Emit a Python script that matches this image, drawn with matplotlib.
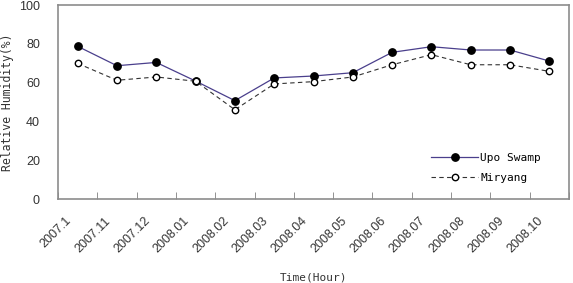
import numpy as np
import matplotlib
matplotlib.use('Agg')
import matplotlib.pyplot as plt
import matplotlib.transforms as mtrans

plt.rcParams['font.family'] = ['Liberation Sans', 'DejaVu Sans']

months = ['2007.1', '2007.11', '2007.12', '2008.01', '2008.02', '2008.03', '2008.04',
          '2008.05', '2008.06', '2008.07', '2008.08', '2008.09', '2008.10']
upo = [78.7, 68.7, 70.4, 60.8, 50.7, 62.4, 63.4, 65.1, 75.6, 78.5, 76.8, 76.8, 71.1]
miryang = [69.9, 61.2, 62.9, 60.7, 46.0, 59.3, 60.5, 62.9, 69.2, 74.4, 69.2, 69.2, 65.8]

mono = 'DejaVu Sans Mono'

fig = plt.figure(figsize=(5.73, 2.83), dpi=100)
ax = fig.add_axes([58/573, 84/283, 511/573, 194/283])

x = np.arange(len(months))
ax.plot(x, upo, color='#4a3f8c', lw=0.9, marker='o', ms=5.3, mfc='black', mec='black',
        label='Upo Swamp')
ax.plot(x, miryang, color='#333333', lw=0.8, ls=(0, (4, 3)), marker='o', ms=4.6,
        mfc='white', mec='black', mew=1.0, label='Miryang')

ax.set_xlim(-0.5, len(months) - 0.5)
ax.set_ylim(0, 100)
ax.set_yticks([0, 20, 40, 60, 80, 100])
ax.set_xticks(x)
ax.set_xticks(np.arange(len(months) + 1) - 0.5, minor=True)
ax.tick_params(axis='x', which='major', length=0, pad=13)
ax.tick_params(axis='x', which='minor', length=5, direction='in', color='#808080')
ax.tick_params(axis='y', length=0, labelsize=9, labelcolor='#333333', pad=13)
ax.set_xticklabels(months, rotation=45, ha='right', va='center', rotation_mode='anchor',
                   fontsize=9, color='#333333')
# nudge the rotated labels to the left like the original
shift = mtrans.ScaledTranslation(-8/100, -2/100, fig.dpi_scale_trans)
for lab in ax.get_xticklabels():
    lab.set_transform(lab.get_transform() + shift)

for s in ax.spines.values():
    s.set_color('#8c8c8c')
    s.set_linewidth(1.2)

ax.set_xlabel('Time(Hour)', fontsize=8, family=mono, color='#333333')
ax.xaxis.set_label_coords(0.5, (199 - 272) / 194)
ax.set_ylabel('Relative Humidity(%)', fontsize=8.3, family=mono, color='#333333',
              va='center')
ax.yaxis.set_label_coords((8 - 58) / 511, 0.5)

ax.legend(loc='lower right', frameon=False, prop={'family': mono, 'size': 8},
          handlelength=4.2, handletextpad=0.2, bbox_to_anchor=(0.965, 0.03), labelspacing=0.9)

plt.savefig('out.png', dpi=100)
